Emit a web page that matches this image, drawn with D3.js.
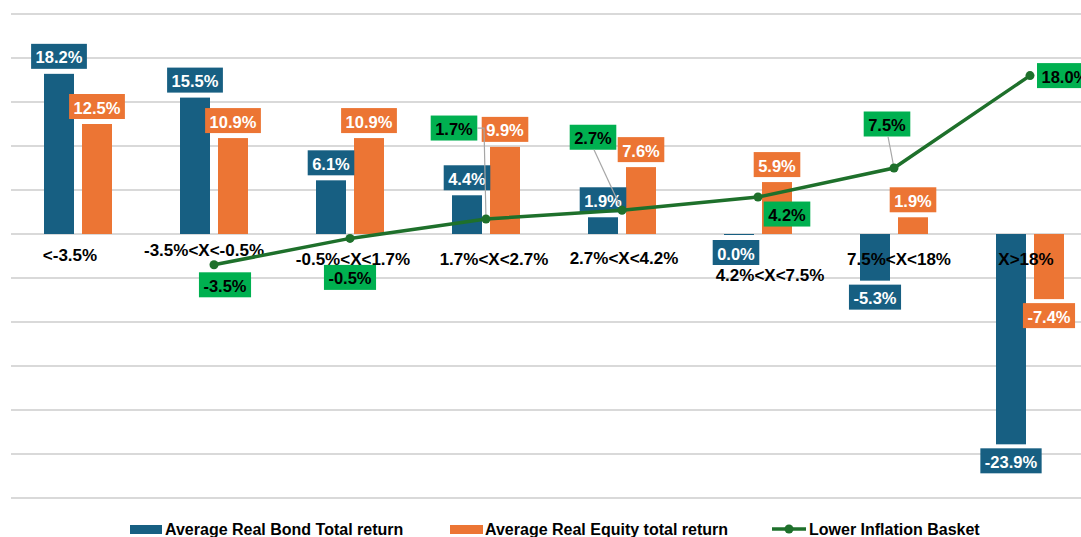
<!DOCTYPE html>
<html><head><meta charset="utf-8">
<script src="https://cdn.jsdelivr.net/npm/d3@7"></script>
<style>body{margin:0;background:#fff}svg{display:block}</style>
</head><body>
<svg id="c" width="1081" height="537"></svg>
<script>
const categories = ["<-3.5%","-3.5%<X<-0.5%","-0.5%<X<1.7%","1.7%<X<2.7%","2.7%<X<4.2%","4.2%<X<7.5%","7.5%<X<18%","X>18%"];
const bondReturns = [18.2, 15.5, 6.1, 4.4, 1.9, 0.0, -5.3, -23.9];
const equityReturns = [12.5, 10.9, 10.9, 9.9, 7.6, 5.9, 1.9, -7.4];
const lowerInflation = [null, -3.5, -0.5, 1.7, 2.7, 4.2, 7.5, 18.0];
const yTicks = [-30,-25,-20,-15,-10,-5,0,5,10,15,20,25];
const seriesNames = ["Average Real Bond Total return","Average Real Equity total return","Lower Inflation Basket"];

const C_BOND = "#175f82", C_EQ = "#ec7534", C_LINE = "#1e702b", C_LBL = "#00b050";
const FONT = "'Liberation Sans', Arial, sans-serif";
const VFS = 16.5;

const svg = d3.select("#c");
const x = d3.scaleBand().domain(categories).range([10, 1098]);
const y = d3.scaleLinear().domain([-30, 25]).range([498, 14]);

// grid
svg.append("g").selectAll("line").data(yTicks).join("line")
  .attr("x1", 11).attr("x2", 1081)
  .attr("y1", d => y(d)).attr("y2", d => y(d))
  .attr("stroke", "#d9d9d9").attr("stroke-width", 2);

const cx = c => x(c) + x.bandwidth() / 2;
const BW = 30;

function bars(vals, color, off) {
  svg.append("g").selectAll("rect").data(vals).join("rect")
    .attr("x", (d, i) => cx(categories[i]) + off)
    .attr("width", BW)
    .attr("y", d => y(Math.max(0, d)))
    .attr("height", d => Math.max(1, Math.abs(y(d) - y(0))))
    .attr("fill", color);
}
bars(bondReturns, C_BOND, -34);
bars(equityReturns, C_EQ, 4);

function measure(txt) {
  const tmp = svg.append("text").attr("font-family", FONT).attr("font-weight", "bold").attr("font-size", VFS).text(txt);
  const w = tmp.node().getComputedTextLength(); tmp.remove(); return w;
}
function box(g, cxp, cyp, txt, fill, tcol) {
  const w = measure(txt) + 9;
  g.append("rect").attr("x", cxp - w / 2).attr("y", cyp - 12.5).attr("width", w).attr("height", 25).attr("fill", fill);
  g.append("text").attr("x", cxp).attr("y", cyp + 1).attr("text-anchor", "middle")
    .attr("dominant-baseline", "central").attr("font-family", FONT).attr("font-weight", "bold")
    .attr("font-size", VFS).attr("fill", tcol).text(txt);
}
const fmt = v => v.toFixed(1) + "%";

// bar labels
function barLabels(vals, color, off) {
  vals.forEach((v, i) => {
    const g = svg.append("g");
    const bx = cx(categories[i]) + off + BW / 2;
    let by;
    if (v > 0) by = y(v) - 5 - 12.5;
    else by = y(v) + 4 + 12.5 + (v === 0 ? 2 : 0);
    box(g, bx + (v === 0 ? -3 : 0), by, fmt(v), color, "#fff");
  });
}
barLabels(bondReturns, C_BOND, -34);
barLabels(equityReturns, C_EQ, 4);

// category labels (manually positioned in original)
const catDy = [20, 15, 24, 24, 23, 40, 24, 24];
const catDx = [-8, -10, 3, 8, 2, 12, 5, -4];
svg.append("g").selectAll("text").data(categories).join("text")
  .attr("x", (d, i) => cx(d) + catDx[i])
  .attr("y", (d, i) => y(0) + catDy[i] + 1)
  .attr("text-anchor", "middle").attr("dominant-baseline", "central")
  .attr("font-family", FONT).attr("font-weight", "bold").attr("font-size", 17).attr("fill", "#000")
  .text(d => d);

// line
const pts = lowerInflation.map((v, i) => ({ v, c: categories[i] })).filter(d => d.v !== null);
const line = d3.line().x(d => cx(d.c)).y(d => y(d.v));
svg.append("path").datum(pts).attr("d", line).attr("fill", "none")
  .attr("stroke", C_LINE).attr("stroke-width", 3.5);

// green labels: offsets from point (box centre), optional leader
const lblOff = [null, [11, 20], [0, 39], [-32, -91, "h"], [-29, -73, "b"], [29, 17], [-7, -44, "b"], [31, 0]];
pts.forEach(p => {
  const i = categories.indexOf(p.c);
  const o = lblOff[i];
  const px = cx(p.c), py = y(p.v);
  const g = svg.append("g");
  const byy = py + o[1];
  const t = fmt(p.v);
  const w = measure(t) + 9;
  const bcx = (i === 7) ? px + 7 + w / 2 : px + o[0];
  if (o[2] === "h") {
    svg.append("polyline").attr("points", `${bcx + w / 2},${byy} ${px - 2},${byy} ${px},${py}`)
      .attr("fill", "none").attr("stroke", "#a6a6a6").attr("stroke-width", 1.2);
  } else if (o[2] === "b") {
    svg.append("line").attr("x1", bcx + 1).attr("y1", byy + 12.5).attr("x2", px).attr("y2", py)
      .attr("stroke", "#a6a6a6").attr("stroke-width", 1.2);
  }
  box(g, bcx, byy, t, C_LBL, "#000");
});

svg.append("g").selectAll("circle").data(pts).join("circle")
  .attr("cx", d => cx(d.c)).attr("cy", d => y(d.v)).attr("r", 4.5).attr("fill", C_LINE);

// legend
const lg = svg.append("g").attr("font-family", FONT).attr("font-weight", "bold").attr("font-size", 16);
lg.append("rect").attr("x", 130).attr("y", 525).attr("width", 32).attr("height", 9).attr("fill", C_BOND);
lg.append("text").attr("x", 165).attr("y", 529).attr("dominant-baseline", "central").text(seriesNames[0]);
lg.append("rect").attr("x", 450).attr("y", 525).attr("width", 33).attr("height", 9).attr("fill", C_EQ);
lg.append("text").attr("x", 485).attr("y", 529).attr("dominant-baseline", "central").text(seriesNames[1]);
lg.append("line").attr("x1", 772).attr("x2", 806).attr("y1", 529).attr("y2", 529).attr("stroke", C_LINE).attr("stroke-width", 3.5);
lg.append("circle").attr("cx", 789).attr("cy", 529).attr("r", 4.5).attr("fill", C_LINE);
lg.append("text").attr("x", 809).attr("y", 529).attr("dominant-baseline", "central").text(seriesNames[2]);
</script>
</body></html>
